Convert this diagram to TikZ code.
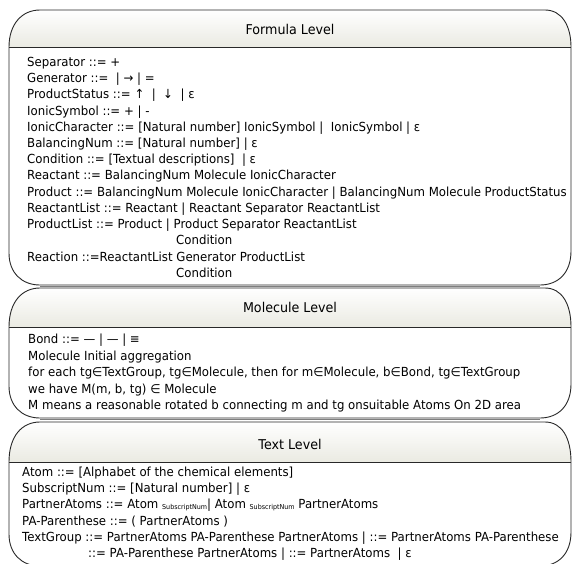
\documentclass[tikz,border=0pt]{standalone}
\usepackage{fontspec}
\setmainfont[FakeStretch=0.94]{DejaVu Sans}
\usepackage{xcolor}
\usepackage{tikz}

\definecolor{headgray}{RGB}{234,234,226}
\definecolor{boxline}{RGB}{40,40,40}
\newcommand{\subtag}[1]{\raisebox{-1.5pt}{\fontsize{6.8}{7}\selectfont #1}}

\tikzset{
	levelhead/.style={top color=white,bottom color=headgray},
	levelline/.style={draw=boxline,line width=0.9pt},
	rule/.style={anchor=base west,inner sep=0pt,font=\fontsize{12.5}{14}\selectfont},
	title/.style={inner sep=0pt,font=\fontsize{13.5}{15}\selectfont}
}

\begin{document}
\begin{tikzpicture}[x=1pt,y=-1pt]
	\useasboundingbox[fill=white] (0,0) rectangle (572,563);

	% the three level boxes
	\foreach \top/\sep/\bot/\name in {10/47/285/formula,288/327/418/molecule,422/462/566/text}{
		\path[levelhead] (9,\sep) .. controls (9,\top+14) and (22,\top) .. (40,\top)
			-- (545,\top) .. controls (562,\top) and (571,\top+16) .. (571,\sep) -- cycle;
		\draw[levelline] (9,\sep) .. controls (9,\top+14) and (22,\top) .. (40,\top)
			-- (545,\top) .. controls (562,\top) and (571,\top+16) .. (571,\sep)
			-- (571,\bot-34) .. controls (571,\bot-12) and (558,\bot) .. (540,\bot)
			-- (40,\bot) .. controls (22,\bot) and (9,\bot-12) .. (9,\bot-32) -- cycle;
		\draw[levelline] (9,\sep) -- (571,\sep);
		\draw[boxline!60,line width=1pt] (40,\bot+1.5) -- (540,\bot+1.5);
	}

	\node[title] (formula) at (290,29) {Formula Level};
	\node[title] (molecule) at (290,307) {Molecule Level};
	\node[title] (text) at (290,444) {Text Level};

	% formula level
	\node[rule] (f1) at (27,66) {Separator ::= +};
	\node[rule] (f2) at (27,82) {Generator ::= \ | → | =};
	\node[rule] (f3) at (27,98) {ProductStatus ::= ↑ \ | \ ↓ \ | ε};
	\node[rule] (f4) at (27,115) {IonicSymbol ::= + | -};
	\node[rule] (f5) at (27,131) {IonicCharacter ::= [Natural number] IonicSymbol | \ IonicSymbol | ε};
	\node[rule] (f6) at (27,147) {BalancingNum ::= [Natural number] | ε};
	\node[rule] (f7) at (27,163) {Condition ::= [Textual descriptions] \ | ε};
	\node[rule] (f8) at (27,179) {Reactant ::= BalancingNum Molecule IonicCharacter};
	\node[rule] (f9) at (27,196) {Product ::= BalancingNum Molecule IonicCharacter | BalancingNum Molecule ProductStatus};
	\node[rule] (f10) at (27,212) {ReactantList ::= Reactant | Reactant Separator ReactantList};
	\node[rule] (f11) at (27,228) {ProductList ::= Product | Product Separator ReactantList};
	\node[rule] (f12) at (176,244) {Condition};
	\node[rule] (f13) at (27,261) {Reaction ::=ReactantList Generator ProductList};
	\node[rule] (f14) at (176,277) {Condition};

	% molecule level
	\node[rule] (m1) at (28,343) {Bond ::= — | — | ≡};
	\node[rule] (m2) at (28,360) {Molecule Initial aggregation};
	\node[rule] (m3) at (28,376) {for each tg∈TextGroup, tg∈Molecule, then for m∈Molecule, b∈Bond, tg∈TextGroup};
	\node[rule] (m4) at (28,393) {we have M(m, b, tg) ∈ Molecule};
	\node[rule] (m5) at (28,409) {M means a reasonable rotated b connecting m and tg onsuitable Atoms On 2D area};

	% text level
	\node[rule] (t1) at (22,476) {Atom ::= [Alphabet of the chemical elements]};
	\node[rule] (t2) at (22,492) {SubscriptNum ::= [Natural number] | ε};
	\node[rule] (t3) at (22,508) {PartnerAtoms ::= Atom \subtag{SubscriptNum}| Atom \subtag{SubscriptNum} PartnerAtoms};
	\node[rule] (t4) at (22,525) {PA-Parenthese ::= ( PartnerAtoms )};
	\node[rule] (t5) at (22,541) {TextGroup ::= PartnerAtoms PA-Parenthese PartnerAtoms | ::= PartnerAtoms PA-Parenthese};
	\node[rule] (t6) at (88,557) {::= PA-Parenthese PartnerAtoms | ::= PartnerAtoms \ | ε};
\end{tikzpicture}
\end{document}
